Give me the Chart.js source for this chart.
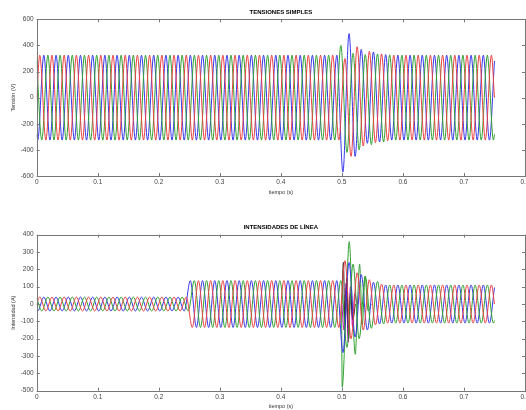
<!DOCTYPE html>
<html>
<head>
<meta charset="utf-8">
<script src="https://cdn.jsdelivr.net/npm/chart.js@4.4.1/dist/chart.umd.min.js"></script>
<style>
  body { margin: 0; background: #fff; }
  .box { position: absolute; left: 0; width: 526px; height: 205px; }
</style>
</head>
<body>
<div class="box" style="top:0"><canvas id="tension" width="526" height="205"></canvas></div>
<div class="box" style="top:205px"><canvas id="intensidad" width="526" height="205"></canvas></div>
<script>
// instantes de los extremos de cada fase (s)
var tR = [0,
  0.005,0.015,0.025,0.035,0.045,0.055,0.065,0.075,0.085,0.095,
  0.105,0.115,0.125,0.135,0.145,0.155,0.165,0.175,0.185,0.195,
  0.205,0.215,0.225,0.235,0.245,0.255,0.265,0.275,0.285,0.295,
  0.305,0.315,0.325,0.335,0.345,0.355,0.365,0.375,0.385,0.395,
  0.405,0.415,0.425,0.435,0.445,0.455,0.465,0.475,0.485,0.495,
  0.505,0.515,0.525,0.535,0.545,0.555,0.565,0.575,0.585,0.595,
  0.605,0.615,0.625,0.635,0.645,0.655,0.665,0.675,0.685,0.695,
  0.705,0.715,0.725,0.735,0.745,
  0.75];
var tG = [0,
  0.0083,0.0183,0.0283,0.0383,0.0483,0.0583,0.0683,0.0783,0.0883,0.0983,
  0.1083,0.1183,0.1283,0.1383,0.1483,0.1583,0.1683,0.1783,0.1883,0.1983,
  0.2083,0.2183,0.2283,0.2383,0.2483,0.2583,0.2683,0.2783,0.2883,0.2983,
  0.3083,0.3183,0.3283,0.3383,0.3483,0.3583,0.3683,0.3783,0.3883,0.3983,
  0.4083,0.4183,0.4283,0.4383,0.4483,0.4583,0.4683,0.4783,0.4883,0.4983,
  0.5083,0.5183,0.5283,0.5383,0.5483,0.5583,0.5683,0.5783,0.5883,0.5983,
  0.6083,0.6183,0.6283,0.6383,0.6483,0.6583,0.6683,0.6783,0.6883,0.6983,
  0.7083,0.7183,0.7283,0.7383,0.7483,
  0.75];
var tB = [0,
  0.0017,0.0117,0.0217,0.0317,0.0417,0.0517,0.0617,0.0717,0.0817,0.0917,
  0.1017,0.1117,0.1217,0.1317,0.1417,0.1517,0.1617,0.1717,0.1817,0.1917,
  0.2017,0.2117,0.2217,0.2317,0.2417,0.2517,0.2617,0.2717,0.2817,0.2917,
  0.3017,0.3117,0.3217,0.3317,0.3417,0.3517,0.3617,0.3717,0.3817,0.3917,
  0.4017,0.4117,0.4217,0.4317,0.4417,0.4517,0.4617,0.4717,0.4817,0.4917,
  0.5017,0.5117,0.5217,0.5317,0.5417,0.5517,0.5617,0.5717,0.5817,0.5917,
  0.6017,0.6117,0.6217,0.6317,0.6417,0.6517,0.6617,0.6717,0.6817,0.6917,
  0.7017,0.7117,0.7217,0.7317,0.7417,
  0.75];

// tensiones simples (V)
var vR = [0,
  325,-325,325,-325,325,-325,325,-325,325,-325,
  325,-325,325,-325,325,-325,325,-325,325,-325,
  325,-325,325,-325,325,-325,325,-325,325,-325,
  325,-325,325,-325,325,-325,325,-325,325,-325,
  325,-325,325,-325,325,-325,325,-325,325,-325,
  300,-450,390,-370,355,-345,335,-330,325,-325,
  325,-325,325,-325,325,-325,325,-325,325,-325,
  325,-325,325,-325,325,
  0];
var vG = [281,
  -325,325,-325,325,-325,325,-325,325,-325,325,
  -325,325,-325,325,-325,325,-325,325,-325,325,
  -325,325,-325,325,-325,325,-325,325,-325,325,
  -325,325,-325,325,-325,325,-325,325,-325,325,
  -325,325,-325,325,-325,325,-325,325,-325,400,
  -420,340,-400,330,-360,335,-340,328,-325,325,
  -325,325,-325,325,-325,325,-325,325,-325,325,
  -325,325,-325,325,-325,
  -281];
var vB = [-281,
  -325,325,-325,325,-325,325,-325,325,-325,325,
  -325,325,-325,325,-325,325,-325,325,-325,325,
  -325,325,-325,325,-325,325,-325,325,-325,325,
  -325,325,-325,325,-325,325,-325,325,-325,325,
  -325,325,-325,325,-325,325,-325,325,-325,325,
  -570,490,-450,370,-350,350,-340,330,-325,325,
  -325,325,-325,325,-325,325,-325,325,-325,325,
  -325,325,-325,325,-325,
  281];

// intensidades de linea (A)
var iR = [0,
  40,-40,40,-40,40,-40,40,-40,40,-40,
  40,-40,40,-40,40,-40,40,-40,40,-40,
  40,-40,40,-40,40,-135,135,-135,135,-135,
  135,-135,135,-135,135,-135,135,-135,135,-135,
  135,-135,135,-135,135,-135,135,-135,135,-135,
  250,-200,180,-150,140,-120,115,-110,110,-110,
  110,-110,110,-110,110,-110,110,-110,110,-110,
  110,-110,110,-110,110,
  0];
var iG = [35,
  -40,40,-40,40,-40,40,-40,40,-40,40,
  -40,40,-40,40,-40,40,-40,40,-40,40,
  -40,40,-40,40,-40,135,-135,135,-135,135,
  -135,135,-135,135,-135,135,-135,135,-135,135,
  -135,135,-135,135,-135,135,-135,135,-135,135,
  -250,230,-200,160,-140,130,-115,110,-110,110,
  -110,110,-110,110,-110,110,-110,110,-110,110,
  -110,110,-110,110,-110,
  -95];
var iB = [-35,
  -40,40,-40,40,-40,40,-40,40,-40,40,
  -40,40,-40,40,-40,40,-40,40,-40,40,
  -40,40,-40,40,-40,135,-135,135,-135,135,
  -135,135,-135,135,-135,135,-135,135,-135,135,
  -135,135,-135,135,-135,135,-135,135,-135,135,
  -280,240,-190,170,-150,125,-115,110,-110,110,
  -110,110,-110,110,-110,110,-110,110,-110,110,
  -110,110,-110,110,-110,
  95];

// transitorio del cortocircuito (t = 0.5 s)
var tSpike = [0.4995,0.5005,0.5065,0.512,0.517,0.522,0.5255,0.529,0.5335,0.538,0.543,0.548];
var iSpike = [0,-480,-50,360,0,-290,0,230,-120,160,-40,0];
var tK = [0.5,0.5025,0.505,0.508,0.511,0.514,0.518,0.522];
var iK = [0,240,-120,150,-200,60,-90,0];
var tM = [0.5,0.5035,0.507,0.5105,0.514,0.5175,0.521,0.525];
var iM = [0,-150,120,-220,100,-130,60,0];

var xTicks = [0,0.1,0.2,0.3,0.4,0.5,0.6,0.7,0.8];

var RED = 'rgb(235,65,65)', GREEN = 'rgb(50,160,50)', BLUE = 'rgb(55,55,235)';
var FONT = 'Liberation Sans, Arial, sans-serif';

function serie(t, v, color) {
  return {
    data: t.map(function (x, i) { return {x: x, y: v[i]}; }),
    borderColor: color,
    borderWidth: 1,
    pointRadius: 0,
    fill: false,
    cubicInterpolationMode: 'monotone'
  };
}

// caja y marcas hacia dentro, al estilo de matlab
var matlabBox = {
  id: 'matlabBox',
  afterDraw: function (chart) {
    var ctx = chart.ctx, a = chart.chartArea, x = chart.scales.x, y = chart.scales.y;
    ctx.save();
    ctx.strokeStyle = '#777';
    ctx.lineWidth = 1;
    ctx.beginPath();
    x.ticks.forEach(function (t) {
      var px = Math.round(x.getPixelForValue(t.value)) + 0.5;
      ctx.moveTo(px, a.top); ctx.lineTo(px, a.top + 3);
      ctx.moveTo(px, a.bottom); ctx.lineTo(px, a.bottom - 3);
    });
    y.ticks.forEach(function (t) {
      var py = Math.round(y.getPixelForValue(t.value)) + 0.5;
      ctx.moveTo(a.left, py); ctx.lineTo(a.left + 3, py);
      ctx.moveTo(a.right, py); ctx.lineTo(a.right - 3, py);
    });
    ctx.stroke();
    ctx.strokeRect(Math.round(a.left) + 0.5, Math.round(a.top) + 0.5,
      Math.round(a.right - a.left), Math.round(a.bottom - a.top));
    ctx.restore();
  }
};

function opciones(titulo, yTitulo, yMin, yMax, yStep, padTop, xHeight, xTitlePad) {
  return {
    responsive: false,
    animation: false,
    layout: { padding: { top: padTop, right: 1, bottom: 0, left: 0 } },
    plugins: {
      legend: { display: false },
      tooltip: { enabled: false },
      title: {
        display: true, text: titulo, fullSize: false, color: '#000',
        font: { family: FONT, size: 6, weight: 'bold' },
        padding: { top: 8.4, bottom: 3.7 }
      }
    },
    scales: {
      x: {
        type: 'linear', min: 0, max: 0.8,
        afterBuildTicks: function (s) { s.ticks = xTicks.map(function (v) { return {value: v}; }); },
        afterFit: function (s) { s.height = xHeight; s.paddingLeft = 0; s.paddingRight = 0; },
        grid: { display: false, drawTicks: false },
        border: { display: false },
        ticks: { padding: 2.3, color: '#444', font: { family: FONT, size: 6.5 },
          maxRotation: 0, autoSkip: false,
          callback: function (v) { return String(Math.round(v * 10) / 10); } },
        title: { display: true, text: 'tiempo (s)', color: '#333',
          font: { family: FONT, size: 5.5 }, padding: { top: 0, bottom: xTitlePad } }
      },
      y: {
        min: yMin, max: yMax,
        afterFit: function (s) { s.width = 36.7; s.paddingTop = 0; s.paddingBottom = 0; },
        grid: { display: false, drawTicks: false },
        border: { display: false },
        ticks: { stepSize: yStep, padding: 3, color: '#444', font: { family: FONT, size: 6.5 },
          callback: function (v) { return String(v); } },
        title: { display: true, text: yTitulo, color: '#333',
          font: { family: FONT, size: 5.5 }, padding: { top: 9.7, bottom: 0 } }
      }
    }
  };
}

new Chart(document.getElementById('tension'), {
  type: 'line',
  data: { datasets: [serie(tR, vR, RED), serie(tG, vG, GREEN), serie(tB, vB, BLUE)] },
  options: opciones('TENSIONES SIMPLES', 'Tensión (V)', -600, 600, 200, 0, 29, 9.7),
  plugins: [matlabBox]
});

new Chart(document.getElementById('intensidad'), {
  type: 'line',
  data: { datasets: [
    serie(tR, iR, RED), serie(tG, iG, GREEN), serie(tB, iB, BLUE),
    serie(tK, iK, '#222'), serie(tM, iM, 'rgb(200,0,200)'), serie(tSpike, iSpike, GREEN)
  ] },
  options: opciones('INTENSIDADES DE LÍNEA', 'Intensidad (A)', -500, 400, 100, 10.4, 19.3, 0.7),
  plugins: [matlabBox]
});
</script>
</body>
</html>
